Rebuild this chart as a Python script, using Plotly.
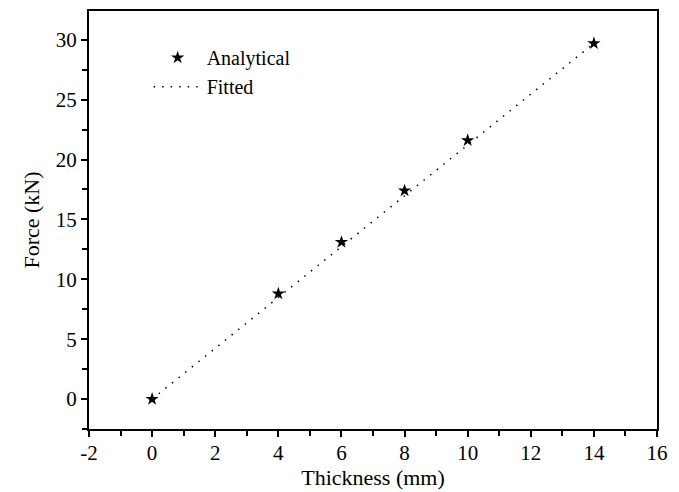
import plotly.graph_objects as go

thickness = [0, 4, 6, 8, 10, 14]
force = [0.0, 8.8, 13.1, 17.4, 21.6, 29.7]
fit_x = [0, 14]
fit_y = [0.0, 29.7]

x_ticks = [-2, 0, 2, 4, 6, 8, 10, 12, 14, 16]
y_ticks = [0, 5, 10, 15, 20, 25, 30]

font_family = "Liberation Serif, Times New Roman, serif"

fig = go.Figure()
fig.add_trace(go.Scatter(
    x=thickness, y=force, mode="markers", name="Analytical",
    marker=dict(symbol="star", size=10, color="black", line=dict(width=0)),
))
fig.add_trace(go.Scatter(
    x=fit_x, y=fit_y, mode="lines", name="Fitted",
    line=dict(color="black", width=1.5, dash="1.5px,7px"),
))

axis_common = dict(
    showgrid=False, zeroline=False, showline=True, linecolor="black", linewidth=2,
    mirror=True, ticks="outside", ticklen=6, tickwidth=2, tickcolor="black",
    tickfont=dict(family=font_family, size=21, color="black"),
    minor=dict(ticks="outside", ticklen=5, tickwidth=2, tickcolor="black"),
    automargin=False,
)

fig.update_xaxes(
    range=[-2, 16], tickvals=x_ticks, ticktext=[str(v) for v in x_ticks],
    minor_dtick=1, ticklabelstandoff=-2,
    title=dict(text="Thickness (mm)", font=dict(family=font_family, size=22, color="black"), standoff=4),
    **axis_common,
)
fig.update_yaxes(
    range=[-2.5, 32.4], tickvals=y_ticks, ticktext=[str(v) for v in y_ticks],
    minor_dtick=2.5, minor_tick0=0,
    title=dict(text="Force (kN)", font=dict(family=font_family, size=22, color="black"), standoff=10),
    **axis_common,
)

fig.update_layout(
    width=679, height=492,
    margin=dict(l=89, r=22, t=11, b=63),
    plot_bgcolor="white", paper_bgcolor="white",
    font=dict(family=font_family, color="black"),
    legend=dict(
        x=0.105, y=0.935, xanchor="left", yanchor="top",
        bgcolor="rgba(0,0,0,0)", font=dict(family=font_family, size=20, color="black"),
        itemwidth=48,
    ),
)

fig.write_html("out.html")
